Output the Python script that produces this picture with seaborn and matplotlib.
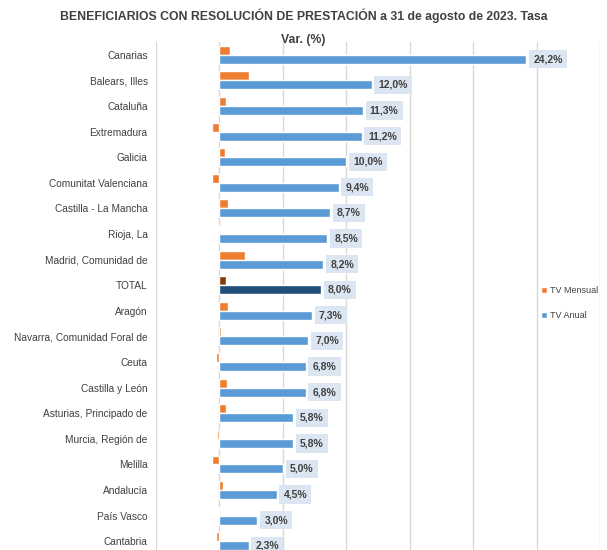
import pandas as pd
import matplotlib.pyplot as plt
import seaborn as sns

# Data (variation rates, %)
regions = [
    "Canarias", "Balears, Illes", "Cataluña", "Extremadura", "Galicia",
    "Comunitat Valenciana", "Castilla - La Mancha", "Rioja, La",
    "Madrid, Comunidad de", "TOTAL", "Aragón", "Navarra, Comunidad Foral de",
    "Ceuta", "Castilla y León", "Asturias, Principado de", "Murcia, Región de",
    "Melilla", "Andalucía", "País Vasco", "Cantabria",
]
tv_mensual = [0.85, 2.3, 0.5, -0.55, 0.4, -0.55, 0.7, -0.1, 2.0, 0.55,
              0.7, 0.1, -0.3, 0.6, 0.55, -0.2, -0.6, 0.25, -0.1, -0.25]
tv_anual = [24.2, 12.0, 11.3, 11.2, 10.0, 9.4, 8.7, 8.5, 8.2, 8.0,
            7.3, 7.0, 6.8, 6.8, 5.8, 5.8, 5.0, 4.5, 3.0, 2.3]
series = ["TV Mensual", "TV Anual"]

ORANGE, BLUE = "#ed7d31", "#5b9bd5"
ORANGE_TOTAL, BLUE_TOTAL = "#843c0c", "#1f4e79"
TEXT = "#404040"

df = pd.DataFrame({
    "region": regions * 2,
    "serie": [series[0]] * len(regions) + [series[1]] * len(regions),
    "valor": tv_mensual + tv_anual,
})

sns.set_style("white")
plt.rcParams["font.family"] = ["Liberation Sans", "DejaVu Sans"]

fig = plt.figure(figsize=(6.07, 5.5), dpi=100)
ax = fig.add_axes([156 / 607, 0, 444 / 607, 1 - 42 / 550])

sns.barplot(data=df, y="region", x="valor", hue="serie", order=regions,
            hue_order=series, palette=[ORANGE, BLUE], orient="h",
            width=0.7, gap=0, saturation=1, ax=ax)

# highlight the TOTAL row
i_total = regions.index("TOTAL")
ax.containers[0][i_total].set_facecolor(ORANGE_TOTAL)
ax.containers[1][i_total].set_facecolor(BLUE_TOTAL)

# data labels on annual bars
labels = [f"{v:.1f}%".replace(".", ",") for v in tv_anual]
ax.bar_label(ax.containers[1], labels=labels, padding=5, fontsize=7.5,
             fontweight="bold", color=TEXT,
             bbox=dict(boxstyle="square,pad=0.4", facecolor="#dce6f2",
                       edgecolor="none"))

ax.set_xlim(-5, 30)
ax.set_ylim(19.34, -0.5)
ax.set_xticks(range(-5, 31, 5))
ax.set_xticklabels([])
ax.xaxis.grid(True, color="#d9d9d9", linewidth=1)
ax.set_axisbelow(True)
for s in ax.spines.values():
    s.set_visible(False)
ax.tick_params(axis="y", length=0, pad=6, labelsize=7.3, labelcolor=TEXT)
ax.tick_params(axis="x", length=0)
ax.set_xlabel("")
ax.set_ylabel("")

leg = ax.legend(loc="center left", bbox_to_anchor=(535 / 607, 1 - 303 / 550),
                bbox_transform=fig.transFigure, frameon=False, fontsize=6.5,
                handlelength=0.6, handleheight=0.6, handletextpad=0.4,
                labelspacing=1.8, borderpad=0.2)
for t in leg.get_texts():
    t.set_color(TEXT)

fig.text(0.5, 1 - 16 / 550,
         "BENEFICIARIOS CON RESOLUCIÓN DE PRESTACIÓN a 31 de agosto de 2023. Tasa",
         ha="center", va="center", fontsize=8.8, fontweight="bold", color=TEXT)
fig.text(0.5, 1 - 40 / 550, "Var. (%)", ha="center", va="center",
         fontsize=8.8, fontweight="bold", color=TEXT)

fig.savefig("out.png", dpi=100)
